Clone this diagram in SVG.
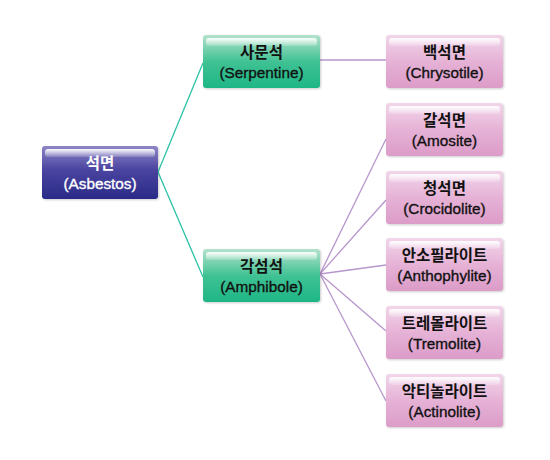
<svg xmlns="http://www.w3.org/2000/svg" width="550" height="460" viewBox="0 0 550 460">
<defs>
<linearGradient id="gBlue" x1="0" y1="0" x2="0" y2="1">
<stop offset="0" stop-color="#8e86c6"/>
<stop offset="0.45" stop-color="#4a44a0"/>
<stop offset="1" stop-color="#2a2a88"/>
</linearGradient>
<linearGradient id="gGreen" x1="0" y1="0" x2="0" y2="1">
<stop offset="0" stop-color="#b4e2cc"/>
<stop offset="0.5" stop-color="#40c294"/>
<stop offset="1" stop-color="#1eb686"/>
</linearGradient>
<linearGradient id="gPink" x1="0" y1="0" x2="0" y2="1">
<stop offset="0" stop-color="#f2d6ea"/>
<stop offset="0.5" stop-color="#e6b2d6"/>
<stop offset="1" stop-color="#dc9cc8"/>
</linearGradient>
<linearGradient id="gHi" x1="0" y1="0" x2="0" y2="1">
<stop offset="0" stop-color="#ffffff" stop-opacity="0.95"/>
<stop offset="1" stop-color="#ffffff" stop-opacity="0.15"/>
</linearGradient>
<filter id="sh" x="-10%" y="-10%" width="130%" height="130%">
<feDropShadow dx="1" dy="1" stdDeviation="1" flood-color="#000" flood-opacity="0.2"/>
</filter>
</defs>
<style>
.box{filter:url(#sh)}
.hi{fill:url(#gHi)}
.t1{font-family:"Liberation Sans","Noto Sans CJK KR",sans-serif;font-size:15.5px;font-weight:bold;text-anchor:middle}
.t2{font-family:"Liberation Sans","Noto Sans CJK KR",sans-serif;font-size:15.3px;text-anchor:middle;stroke-width:0.35}
.dark{fill:#111}
.t2.dark{stroke:#111}
.light{fill:#fff}
.t2.light{stroke:#fff}
.cg{stroke:#2bc3a6;stroke-width:1.3;fill:none}
.cp{stroke:#b896cc;stroke-width:1.3;fill:none}
</style>
<g id="connectors">
<line class="cg" x1="158" y1="172" x2="203" y2="63"/>
<line class="cg" x1="158" y1="172" x2="203" y2="277"/>
<line class="cp" x1="320" y1="60" x2="386" y2="60"/>
<line class="cp" x1="320" y1="274" x2="386" y2="139"/>
<line class="cp" x1="320" y1="274" x2="386" y2="200"/>
<line class="cp" x1="320" y1="274" x2="386" y2="265"/>
<line class="cp" x1="320" y1="274" x2="386" y2="331"/>
<line class="cp" x1="320" y1="274" x2="386" y2="401"/>
</g>
<g id="asbestos">
<rect class="box" x="42" y="146" width="116" height="53" rx="3" fill="url(#gBlue)"/>
<rect class="hi" x="45" y="149" width="110" height="8" rx="3"/>
<text class="t1 light" x="100" y="169">석면</text>
<text class="t2 light" x="100" y="189">(Asbestos)</text>
</g>
<g id="serpentine">
<rect class="box" x="203" y="35" width="117" height="53" rx="3" fill="url(#gGreen)"/>
<rect class="hi" x="206" y="38" width="111" height="8" rx="3"/>
<text class="t1 dark" x="261.5" y="58">사문석</text>
<text class="t2 dark" x="261.5" y="78">(Serpentine)</text>
</g>
<g id="amphibole">
<rect class="box" x="203" y="249" width="117" height="53" rx="3" fill="url(#gGreen)"/>
<rect class="hi" x="206" y="252" width="111" height="8" rx="3"/>
<text class="t1 dark" x="261.5" y="272">각섬석</text>
<text class="t2 dark" x="261.5" y="292">(Amphibole)</text>
</g>
<g id="chrysotile">
<rect class="box" x="386" y="35" width="117" height="53" rx="3" fill="url(#gPink)"/>
<rect class="hi" x="389" y="38" width="111" height="8" rx="3"/>
<text class="t1 dark" x="444.5" y="58">백석면</text>
<text class="t2 dark" x="444.5" y="78">(Chrysotile)</text>
</g>
<g id="amosite">
<rect class="box" x="386" y="103" width="117" height="53" rx="3" fill="url(#gPink)"/>
<rect class="hi" x="389" y="106" width="111" height="8" rx="3"/>
<text class="t1 dark" x="444.5" y="126">갈석면</text>
<text class="t2 dark" x="444.5" y="146">(Amosite)</text>
</g>
<g id="crocidolite">
<rect class="box" x="386" y="171" width="117" height="53" rx="3" fill="url(#gPink)"/>
<rect class="hi" x="389" y="174" width="111" height="8" rx="3"/>
<text class="t1 dark" x="444.5" y="194">청석면</text>
<text class="t2 dark" x="444.5" y="214">(Crocidolite)</text>
</g>
<g id="anthophyllite">
<rect class="box" x="386" y="238" width="117" height="53" rx="3" fill="url(#gPink)"/>
<rect class="hi" x="389" y="241" width="111" height="8" rx="3"/>
<text class="t1 dark" x="444.5" y="261">안소필라이트</text>
<text class="t2 dark" x="444.5" y="281">(Anthophylite)</text>
</g>
<g id="tremolite">
<rect class="box" x="386" y="306" width="117" height="53" rx="3" fill="url(#gPink)"/>
<rect class="hi" x="389" y="309" width="111" height="8" rx="3"/>
<text class="t1 dark" x="444.5" y="329">트레몰라이트</text>
<text class="t2 dark" x="444.5" y="349">(Tremolite)</text>
</g>
<g id="actinolite">
<rect class="box" x="386" y="374" width="117" height="53" rx="3" fill="url(#gPink)"/>
<rect class="hi" x="389" y="377" width="111" height="8" rx="3"/>
<text class="t1 dark" x="444.5" y="397">악티놀라이트</text>
<text class="t2 dark" x="444.5" y="417">(Actinolite)</text>
</g>
</svg>
